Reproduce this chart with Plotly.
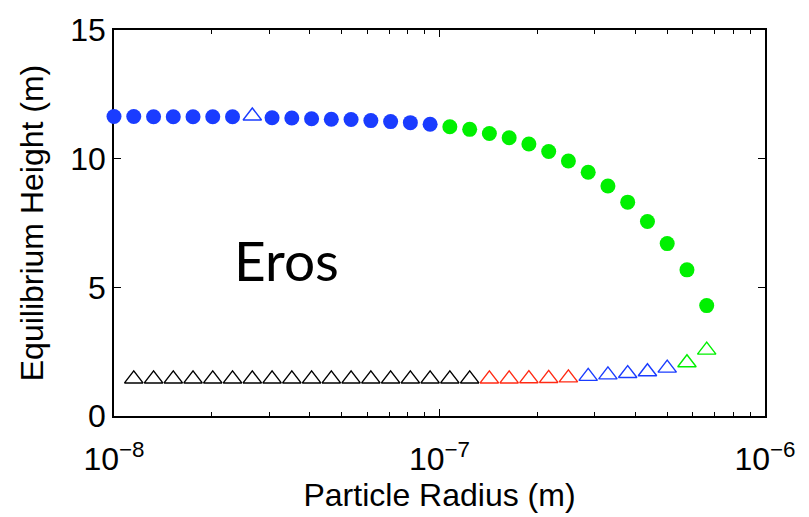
import plotly.graph_objects as go

# Particle radius (m) for each sample
radius = [1.000e-8, 1.150e-8, 1.323e-8, 1.521e-8, 1.749e-8, 2.011e-8, 2.313e-8, 2.660e-8,
          3.059e-8, 3.518e-8, 4.046e-8, 4.652e-8, 5.350e-8, 6.153e-8, 7.076e-8, 8.137e-8,
          9.358e-8, 1.076e-7, 1.238e-7, 1.423e-7, 1.637e-7, 1.882e-7, 2.165e-7, 2.489e-7,
          2.863e-7, 3.292e-7, 3.786e-7, 4.354e-7, 5.007e-7, 5.758e-7, 6.621e-7]

# Upper branch equilibrium heights (m)
upper_height = [11.64, 11.64, 11.63, 11.63, 11.63, 11.63, 11.63, 11.66, 11.59, 11.58,
                11.55, 11.53, 11.52, 11.48, 11.44, 11.40, 11.34, 11.24, 11.14, 10.98,
                10.81, 10.57, 10.28, 9.91, 9.47, 8.94, 8.31, 7.56, 6.70, 5.68, 4.29]
upper_color = ["blue"] * 17 + ["green"] * 14
upper_symbol = ["dot"] * 7 + ["tri"] + ["dot"] * 23

# Lower branch equilibrium heights (m), starting at the second radius
lower_height = [1.44, 1.44, 1.44, 1.44, 1.44, 1.44, 1.44, 1.44, 1.44, 1.44,
                1.44, 1.44, 1.44, 1.44, 1.44, 1.44, 1.44, 1.44,
                1.44, 1.44, 1.45, 1.46, 1.48,
                1.54, 1.60, 1.65, 1.72, 1.86,
                2.07, 2.56]
lower_color = ["black"] * 18 + ["red"] * 5 + ["blue"] * 5 + ["green"] * 2

palette = {"blue": "#1a3cff", "green": "#00f000", "red": "#ff2a14", "black": "#000000"}

x_ticks = [1e-8, 1e-7, 1e-6]
x_ticktext = ["10<sup>\u22128</sup>", "10<sup>\u22127</sup>", "10<sup>\u22126</sup>"]
x_minor = [2e-8, 3e-8, 4e-8, 5e-8, 6e-8, 7e-8, 8e-8, 9e-8,
           2e-7, 3e-7, 4e-7, 5e-7, 6e-7, 7e-7, 8e-7, 9e-7]
y_ticks = [0, 5, 10, 15]

fig = go.Figure()

# Upper branch: filled dots and open triangles
for cname in ["blue", "green"]:
    for sym in ["dot", "tri"]:
        xs = [r for r, c, s in zip(radius, upper_color, upper_symbol) if c == cname and s == sym]
        ys = [h for h, c, s in zip(upper_height, upper_color, upper_symbol) if c == cname and s == sym]
        if not xs:
            continue
        if sym == "dot":
            marker = dict(symbol="circle", size=15, color=palette[cname], line=dict(width=0))
        else:
            marker = dict(symbol="triangle-up-open", size=16, color=palette[cname], line=dict(width=1.4, color=palette[cname]))
        fig.add_trace(go.Scatter(x=xs, y=ys, mode="markers", marker=marker,
                                 cliponaxis=False, showlegend=False, hoverinfo="skip"))

# Lower branch: open triangles
lower_radius = radius[1:]
for cname in ["black", "red", "blue", "green"]:
    xs = [r for r, c in zip(lower_radius, lower_color) if c == cname]
    ys = [h for h, c in zip(lower_height, lower_color) if c == cname]
    fig.add_trace(go.Scatter(x=xs, y=ys, mode="markers",
                             marker=dict(symbol="triangle-up-open", size=16, color=palette[cname],
                                         line=dict(width=1.4, color=palette[cname])),
                             cliponaxis=False, showlegend=False, hoverinfo="skip"))

axis_font = dict(family="Liberation Sans, Arial, sans-serif", size=32, color="black")

fig.update_layout(
    width=809, height=517,
    margin=dict(l=114, r=44, t=20, b=101),
    paper_bgcolor="white", plot_bgcolor="white",
    font=axis_font,
    xaxis=dict(
        type="log", range=[-8, -6],
        tickmode="array", tickvals=x_ticks, ticktext=x_ticktext,
        ticks="inside", ticklen=7, tickwidth=1, tickcolor="black",
        minor=dict(tickmode="array", tickvals=x_minor, ticks="inside", ticklen=4,
                   tickwidth=1, tickcolor="black", showgrid=False),
        showline=True, linecolor="black", linewidth=1.5, mirror="allticks",
        showgrid=False, zeroline=False, layer="below traces",
        tickfont=axis_font, ticklabelstandoff=14,
        title=dict(text="Particle Radius (m)", font=axis_font, standoff=3),
    ),
    yaxis=dict(
        range=[0, 15], tickmode="array", tickvals=y_ticks,
        ticks="inside", ticklen=7, tickwidth=1, tickcolor="black",
        showline=True, linecolor="black", linewidth=1.5, mirror="allticks",
        showgrid=False, zeroline=False, layer="below traces",
        tickfont=axis_font,
        title=dict(text="Equilibrium Height (m)", font=axis_font, standoff=17),
    ),
)

fig.add_annotation(x=-7.47, y=6.05, xref="x", yref="y", text="Eros", showarrow=False,
                   font=dict(family="Lato, Open Sans, sans-serif", size=55, color="black"))

fig.write_html("out.html")
